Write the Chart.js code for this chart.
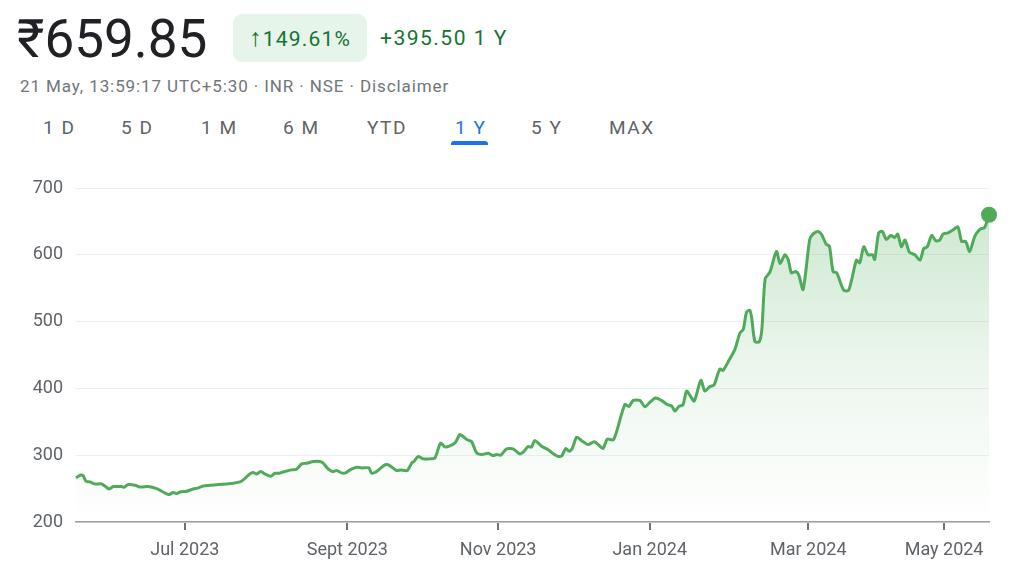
<!DOCTYPE html>
<html>
<head>
<meta charset="utf-8">
<script src="https://cdn.jsdelivr.net/npm/chart.js@4.4.1/dist/chart.umd.min.js"></script>
<style>
  html, body { margin:0; padding:0; background:#fff; }
  body { width:1024px; height:585px; position:relative; overflow:hidden; font-family: Roboto, "Noto Sans", Arial, sans-serif; }
  .abs { position:absolute; white-space:nowrap; }
  #price { left:17px; top:8px; font-size:53px; line-height:62px; color:#202124; }
  #badge { left:233px; top:14px; width:134px; height:48px; background:#e6f4ea; border-radius:9px;
           color:#137333; font-size:21px; line-height:48px; text-align:center; letter-spacing:1.2px; }
  #badge .arr { font-size:25px; }
  #change { left:380px; top:24px; font-size:21px; line-height:28px; color:#137333; letter-spacing:1.5px; }
  #sub { left:20px; top:76px; font-size:17px; line-height:20px; color:#70757a; letter-spacing:0.9px; }
  .tab { top:116px; font-size:19px; line-height:24px; color:#5f6368; letter-spacing:1.5px; }
  .tab.active { color:#1a73e8; }
  #underline { left:451px; top:141px; width:37px; height:4px; background:#1a73e8; border-radius:3px 3px 0 0; }
  #c { position:absolute; left:0; top:0; }
</style>
</head>
<body>
<div class="abs" id="price">₹659.85</div>
<div class="abs" id="badge"><span class="arr">↑</span>149.61%</div>
<div class="abs" id="change">+395.50 1 Y</div>
<div class="abs" id="sub">21 May, 13:59:17 UTC+5:30 · INR · NSE · Disclaimer</div>
<div class="abs tab" style="left:43px">1 D</div>
<div class="abs tab" style="left:121px">5 D</div>
<div class="abs tab" style="left:201px">1 M</div>
<div class="abs tab" style="left:283px">6 M</div>
<div class="abs tab" style="left:367px">YTD</div>
<div class="abs tab active" style="left:455px">1 Y</div>
<div class="abs tab" style="left:531px">5 Y</div>
<div class="abs tab" style="left:609px">MAX</div>
<div class="abs" id="underline"></div>
<canvas id="c" width="1024" height="585"></canvas>
<script>
// Trading-day index (0 = 22 May 2023, 250 = 21 May 2024)
const tradingDay = [
  0, 1.1, 2.0, 2.7, 3.8, 5.2, 7.0, 7.9, 9.1, 10.2, 12.5, 13.1, 14.3, 16.2, 17.5, 19.8, 22.1, 23.5, 25.3, 26.6,
  27.6, 28.5, 30.3, 32.1, 33.5, 34.8, 36.7, 39.0, 41.3, 42.6, 44.9, 45.8, 47.6, 48.5, 49.5, 50.6, 51.7, 53.3, 54.5, 55.6,
  57.2, 59.0, 60.4, 61.8, 63.2, 65.0, 66.8, 67.7, 69.1, 70.2, 71.4, 72.7, 73.8, 75.0, 76.8, 78.2, 80.2, 80.9, 82.0, 83.5,
  84.6, 85.2, 86.0, 87.8, 88.9, 90.7, 91.9, 92.6, 93.7, 95.1, 96.9, 98.3, 99.8, 101.0, 102.4, 103.8, 105.1, 106.0, 107.1, 108.3,
  109.7, 111.1, 112.9, 114.2, 115.2, 116.3, 117.9, 119.7, 121.5, 122.6, 123.8, 124.7, 125.6, 126.8, 127.6, 129.3, 130.7, 131.9, 133.0, 134.1,
  135.0, 135.9, 137.1, 138.4, 140.2, 141.9, 143.0, 144.3, 145.5, 147.1, 148.0, 150.3, 151.4, 152.6, 154.4, 155.8, 157.1, 158.7, 160.3, 162.0,
  163.1, 164.0, 165.1, 166.2, 167.2, 168.4, 169.3, 171.1, 172.2, 173.6, 174.7, 176.3, 177.2, 178.6, 180.4, 181.8, 182.7, 183.6, 184.5, 185.0,
  185.9, 187.1, 187.8, 188.7, 190.0, 191.8, 192.8, 194.1, 195.0, 195.9, 197.1, 197.9, 199.1, 200.9, 201.8, 203.2, 204.2, 205.4, 206.3, 207.3,
  208.3, 210.2, 211.6, 213.7, 214.6, 215.7, 216.9, 218.1, 218.7, 219.8, 220.8, 221.9, 223.1, 224.2, 225.0, 226.0, 227.0, 228.2, 229.7, 231.1,
  232.1, 233.1, 234.3, 235.4, 236.5, 237.4, 238.8, 240.2, 241.5, 242.5, 243.6, 244.7, 246.1, 247.5, 248.8, 250
];
const price = [
  266, 270, 269, 261, 260, 257, 257, 254, 249.5, 253, 253, 252, 256, 255, 252.5, 253, 250, 246, 241, 244,
  242.5, 245, 246, 249.5, 251, 254, 255, 256, 257, 257.5, 260, 263, 272, 274, 272, 275.5, 272, 268.5, 273, 273,
  275.5, 278, 279, 287, 288, 290.5, 290.5, 288, 279, 275.5, 277, 273.5, 273.5, 278, 282, 281, 281, 273.5, 274.5, 281,
  285.5, 286, 284, 277, 278, 277, 288, 291, 298, 294.5, 294.5, 296, 318, 312.5, 314, 318.5, 331, 328, 323, 320.5,
  303.5, 301, 303, 299.5, 301, 300, 309.5, 309.5, 302, 305.5, 313, 312, 322, 317, 313, 308, 302, 298.5, 299, 310,
  306, 310.5, 327, 322, 316, 320, 316, 310, 324, 323, 335, 376, 373, 382, 382, 372.5, 379, 385.5, 382, 375.5,
  374, 366, 373, 375.5, 396, 387, 381, 412, 396, 403, 405, 429, 427, 440, 458, 483, 488, 514, 517, 506,
  470, 470, 488, 564, 574, 605, 587, 600, 593, 573, 575, 570, 548, 623, 631, 635, 630, 616, 613, 575,
  573, 547, 547, 592, 588, 612, 600, 600, 593, 633, 635, 623, 629, 626, 631, 612, 622, 604, 600, 592,
  609, 612, 629, 621, 622, 631, 633, 637.6, 641.6, 620, 620, 605, 627.5, 638, 641, 660
];
const tickDays = [29.8, 74.3, 115.6, 157.1, 200.5, 237.7];
const tickLabels = ['Jul 2023', 'Sept 2023', 'Nov 2023', 'Jan 2024', 'Mar 2024', 'May 2024'];
const yTicks = [200, 300, 400, 500, 600, 700];

const points = tradingDay.map((d, i) => ({ x: d, y: price[i] }));
const GREEN = '#4fab5a';
const lastIndex = points.length - 1;

new Chart(document.getElementById('c'), {
  type: 'line',
  data: {
    datasets: [{
      data: points,
      borderColor: GREEN,
      borderWidth: 3,
      tension: 0.25,
      clip: 20,
      fill: 'start',
      backgroundColor: (ctx) => {
        const area = ctx.chart.chartArea;
        if (!area) return 'rgba(79,171,90,0.2)';
        const g = ctx.chart.ctx.createLinearGradient(0, area.top, 0, area.bottom);
        g.addColorStop(0, 'rgba(79,171,90,0.30)');
        g.addColorStop(0.55, 'rgba(79,171,90,0.10)');
        g.addColorStop(1, 'rgba(79,171,90,0.0)');
        return g;
      },
      pointRadius: (ctx) => ctx.dataIndex === lastIndex ? 8 : 0,
      pointBackgroundColor: GREEN,
      pointBorderWidth: 0,
      pointHoverRadius: 0
    }]
  },
  options: {
    responsive: false,
    animation: false,
    layout: { padding: { top: 188, right: 35, left: 0, bottom: 0 } },
    plugins: { legend: { display: false }, tooltip: { enabled: false } },
    scales: {
      x: {
        type: 'linear',
        min: 0,
        max: 250,
        afterBuildTicks: (axis) => { axis.ticks = tickDays.map(v => ({ value: v })); },
        afterFit: (s) => { s.height = 63; },
        ticks: {
          autoSkip: false,
          maxRotation: 0,
          padding: 10,
          color: '#5f6368',
          font: { family: 'Roboto', size: 18 },
          callback: (v, i) => tickLabels[i]
        },
        grid: { drawOnChartArea: false, drawTicks: true, tickLength: 8, color: '#6f7377', lineWidth: 2 },
        border: { display: true, color: '#9aa0a6', width: 1.5 }
      },
      y: {
        min: 200,
        max: 700,
        afterBuildTicks: (axis) => { axis.ticks = yTicks.map(v => ({ value: v })); },
        afterFit: (s) => { s.width = 76; },
        ticks: {
          padding: 13,
          color: '#5f6368',
          font: { family: 'Roboto', size: 18 },
          callback: (v) => String(v)
        },
        grid: { color: '#ebf0ee', lineWidth: 1, drawTicks: false },
        border: { display: false }
      }
    }
  }
});
</script>
</body>
</html>
